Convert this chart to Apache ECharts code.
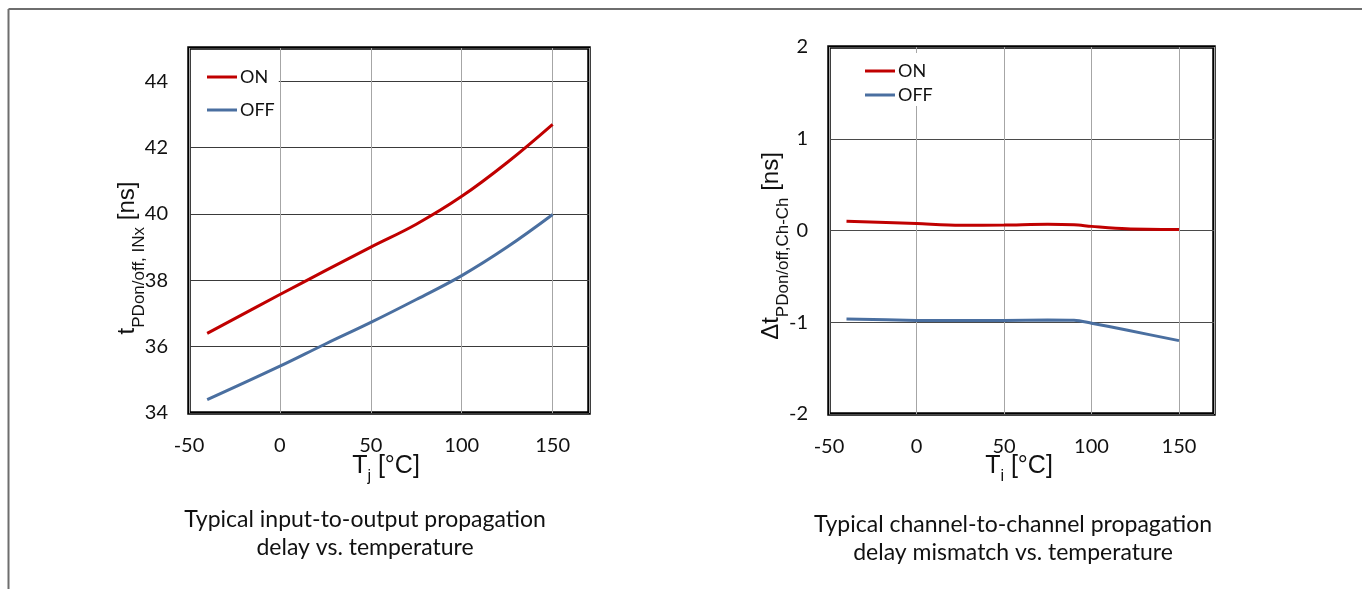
<!DOCTYPE html>
<html>
<head>
<meta charset="utf-8">
<script src="https://cdn.jsdelivr.net/npm/echarts@6/dist/echarts.min.js"></script>
<style>
html,body{margin:0;padding:0;background:#fff;}
#c{width:1362px;height:589px;}
</style>
</head>
<body>
<div id="c"></div>
<script>
// ---- data ----
var tempLeft = [-40, 0, 25, 50, 75, 100, 125, 150];
var delayOn = [36.4, 37.57, 38.29, 39.0, 39.69, 40.53, 41.55, 42.7];
var delayOff = [34.4, 35.41, 36.08, 36.73, 37.42, 38.14, 39.0, 39.98];

var tempRight = [-40, 0, 25, 50, 75, 90, 100, 120, 150];
var mismatchOn = [0.10, 0.075, 0.058, 0.06, 0.068, 0.062, 0.045, 0.018, 0.01];
var mismatchOff = [-0.965, -0.98, -0.982, -0.98, -0.975, -0.978, -1.01, -1.085, -1.2];

var xTicks = [-50, 0, 50, 100, 150];
var yTicksLeft = [34, 36, 38, 40, 42, 44];
var yTicksRight = [-2, -1, 0, 1, 2];

var seriesNames = ['ON', 'OFF'];
var captionLeft = ['Typical input-to-output propagation', 'delay vs. temperature'];
var captionRight = ['Typical channel-to-channel propagation', 'delay mismatch vs. temperature'];

function pairs(xs, ys) { return xs.map(function (x, i) { return [x, ys[i]]; }); }

var RED = '#C00000', BLUE = '#4A6FA0';
var tickFont = 'Lato, "Liberation Sans", sans-serif';
var nameFont = '"Liberation Sans", Arial, sans-serif';

function xAxisCfg(gi) {
  return {
    type: 'value', gridIndex: gi, min: -50, max: 170, interval: 50,
    axisLine: { show: false }, axisTick: { show: false },
    axisLabel: {
      margin: 23, fontSize: 20, color: '#111', fontFamily: tickFont,
      formatter: function (v) { return xTicks.indexOf(v) >= 0 ? String(v) : ''; }
    },
    splitLine: { show: true, lineStyle: { color: '#a6a6a6', width: 1 } }
  };
}
function yAxisCfg(gi, min, max, interval, ticks, gridColor) {
  return {
    type: 'value', gridIndex: gi, min: min, max: max, interval: interval,
    axisLine: { show: false }, axisTick: { show: false },
    axisLabel: {
      margin: 21, fontSize: 20, color: '#111', fontFamily: tickFont,
      formatter: function (v) { return ticks.indexOf(v) >= 0 ? String(v) : ''; }
    },
    splitLine: { show: true, lineStyle: { color: gridColor, width: 1 } }
  };
}
function lineSeries(name, xi, data, color, smooth) {
  return {
    name: name, type: 'line', xAxisIndex: xi, yAxisIndex: xi, data: data,
    smooth: smooth, showSymbol: false, symbol: 'none',
    lineStyle: { color: color, width: 3 }, itemStyle: { color: color }, z: 3
  };
}

var chart = echarts.init(document.getElementById('c'), null, { renderer: 'canvas' });

var option = {
  animation: false,
  backgroundColor: '#fff',
  grid: [
    { left: 189, top: 48, width: 400, height: 365, show: true, borderColor: '#000', borderWidth: 3.5, backgroundColor: 'transparent' },
    { left: 829, top: 47, width: 385, height: 367, show: true, borderColor: '#000', borderWidth: 3.5, backgroundColor: 'transparent' }
  ],
  xAxis: [xAxisCfg(0), xAxisCfg(1)],
  yAxis: [
    yAxisCfg(0, 34, 45, 2, yTicksLeft, '#3a3a3a'),
    yAxisCfg(1, -2, 2, 1, yTicksRight, '#4a4a4a')
  ],
  legend: [
    {
      data: seriesNames, orient: 'vertical', left: 191, top: 50, itemGap: 15,
      itemWidth: 30, itemHeight: 3, icon: 'rect',
      padding: [18, 4, 10, 16], backgroundColor: '#fff',
      textStyle: { fontSize: 18, color: '#111', fontFamily: tickFont, lineHeight: 18, padding: [0, 0, 0, -2] },
      selectedMode: false
    },
    {
      data: seriesNames, orient: 'vertical', left: 858, top: 53, itemGap: 6,
      itemWidth: 30, itemHeight: 3, icon: 'rect',
      padding: [9, 10, 2, 7], backgroundColor: '#fff',
      textStyle: { fontSize: 18, color: '#111', fontFamily: tickFont, lineHeight: 18, padding: [0, 0, 0, -2] },
      selectedMode: false
    }
  ],
  series: [
    lineSeries(seriesNames[0], 0, pairs(tempLeft, delayOn), RED, 0.4),
    lineSeries(seriesNames[1], 0, pairs(tempLeft, delayOff), BLUE, 0.4),
    lineSeries(seriesNames[0], 1, pairs(tempRight, mismatchOn), RED, 0.3),
    lineSeries(seriesNames[1], 1, pairs(tempRight, mismatchOff), BLUE, 0.3)
  ],
  graphic: [
    // outer frame
    { type: 'line', shape: { x1: 8.5, y1: 9, x2: 1362, y2: 9 }, style: { stroke: '#6e6e6e', lineWidth: 2 } },
    { type: 'line', shape: { x1: 8.5, y1: 9, x2: 8.5, y2: 589 }, style: { stroke: '#6e6e6e', lineWidth: 2 } },
    // x axis names
    {
      type: 'text', x: 386, y: 467,
      style: {
        text: '{a|T}{b|j}{a| [°C]}', align: 'center', verticalAlign: 'middle',
        rich: {
          a: { fontSize: 25, fontFamily: nameFont, fill: '#111', lineHeight: 26, verticalAlign: 'top' },
          b: { fontSize: 16, fontFamily: nameFont, fill: '#111', lineHeight: 16, padding: [15, 0, 0, 0], verticalAlign: 'top' }
        }
      }
    },
    {
      type: 'text', x: 1019, y: 467,
      style: {
        text: '{a|T}{b|i}{a| [°C]}', align: 'center', verticalAlign: 'middle',
        rich: {
          a: { fontSize: 25, fontFamily: nameFont, fill: '#111', lineHeight: 26, verticalAlign: 'top' },
          b: { fontSize: 16, fontFamily: nameFont, fill: '#111', lineHeight: 16, padding: [15, 0, 0, 0], verticalAlign: 'top' }
        }
      }
    },
    // y axis names
    {
      type: 'text', x: 127, y: 258, rotation: Math.PI / 2,
      style: {
        text: '{a|t}{b|PDon/off, INx}{a| [ns]}', align: 'center', verticalAlign: 'middle',
        rich: {
          a: { fontSize: 24, fontFamily: nameFont, fill: '#111', lineHeight: 24, verticalAlign: 'top' },
          b: { fontSize: 17, fontFamily: nameFont, fill: '#111', lineHeight: 17, padding: [16, 0, 0, 0], verticalAlign: 'top' }
        }
      }
    },
    {
      type: 'text', x: 771, y: 246, rotation: Math.PI / 2,
      style: {
        text: '{a|Δt}{b|PDon/off,Ch-Ch}{a| [ns]}', align: 'center', verticalAlign: 'middle',
        rich: {
          a: { fontSize: 24, fontFamily: nameFont, fill: '#111', lineHeight: 24, verticalAlign: 'top' },
          b: { fontSize: 17, fontFamily: nameFont, fill: '#111', lineHeight: 17, padding: [16, 0, 0, 0], verticalAlign: 'top' }
        }
      }
    },
    // captions
    { type: 'text', x: 365, y: 520, style: { text: captionLeft[0], align: 'center', verticalAlign: 'middle', font: '23px Lato, sans-serif', fill: '#111' } },
    { type: 'text', x: 365, y: 548, style: { text: captionLeft[1], align: 'center', verticalAlign: 'middle', font: '23px Lato, sans-serif', fill: '#111' } },
    { type: 'text', x: 1013, y: 525, style: { text: captionRight[0], align: 'center', verticalAlign: 'middle', font: '23px Lato, sans-serif', fill: '#111' } },
    { type: 'text', x: 1013, y: 553, style: { text: captionRight[1], align: 'center', verticalAlign: 'middle', font: '23px Lato, sans-serif', fill: '#111' } }
  ]
};
chart.setOption(option);
</script>
</body>
</html>
